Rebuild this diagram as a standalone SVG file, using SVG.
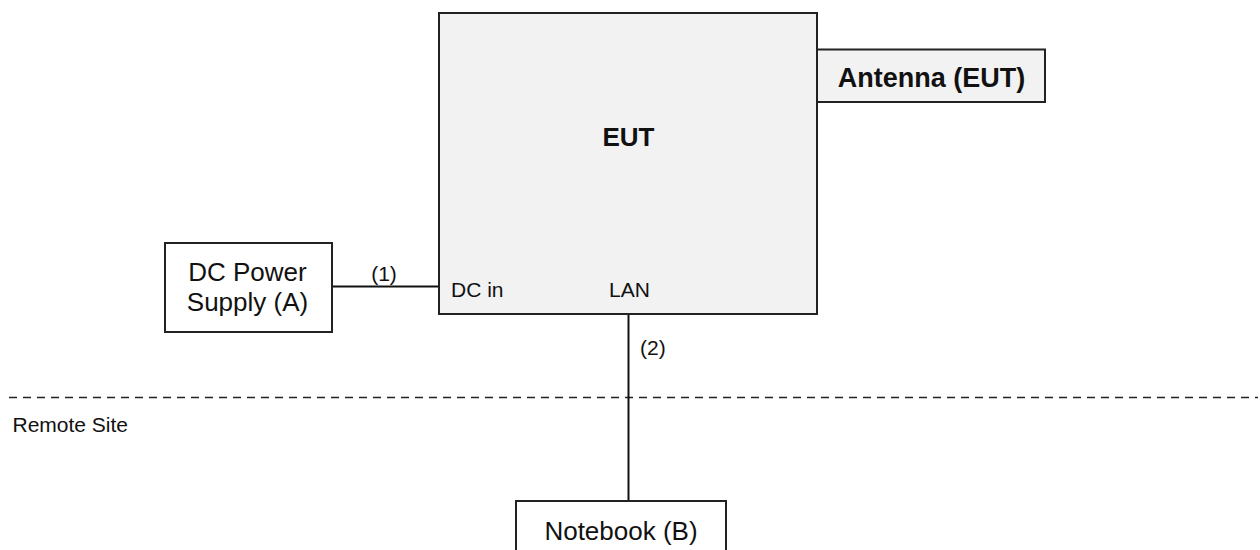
<svg xmlns="http://www.w3.org/2000/svg" width="1260" height="550" viewBox="0 0 1260 550">
  <style>
    .box { stroke: #222; stroke-width: 2; }
    .plain { fill: #ffffff; }
    .shade { fill: #f2f2f2; }
    .wire { stroke: #111; stroke-width: 2; fill: none; }
    .site { stroke: #222; stroke-width: 1.6; stroke-dasharray: 8 6; fill: none; }
    .lbl { font-family: "Liberation Sans", Arial, sans-serif; fill: #111; }
    .big { font-size: 26px; }
    .small { font-size: 21px; }
    .bold { font-weight: bold; }
  </style>

  <!-- site boundary -->
  <g id="site-boundary">
    <line class="site" x1="9" y1="397.5" x2="1258" y2="397.5"/>
    <text class="lbl small" x="12.5" y="432">Remote Site</text>
  </g>

  <!-- cables -->
  <g id="connectors">
    <line class="wire" x1="332" y1="286.5" x2="439" y2="286.5"/>
    <text class="lbl small" x="384" y="281" text-anchor="middle">(1)</text>
    <line class="wire" x1="628.5" y1="314" x2="628.5" y2="501"/>
    <text class="lbl small" x="640" y="355">(2)</text>
  </g>

  <g id="eut">
    <rect class="box shade" x="439" y="13" width="378" height="301"/>
    <text class="lbl big bold" x="628.5" y="146" text-anchor="middle">EUT</text>
    <text class="lbl small" x="451" y="297">DC in</text>
    <text class="lbl small" x="609" y="297">LAN</text>
  </g>

  <g id="antenna">
    <rect class="box shade" x="817" y="49.5" width="228" height="52.5"/>
    <text class="lbl bold" style="font-size:27px" x="931.5" y="87" text-anchor="middle">Antenna (EUT)</text>
  </g>

  <g id="dc-power-supply">
    <rect class="box plain" x="165" y="243" width="167" height="89"/>
    <text class="lbl big" x="247.5" y="281" text-anchor="middle">DC Power</text>
    <text class="lbl big" x="247.5" y="311" text-anchor="middle">Supply (A)</text>
  </g>

  <g id="notebook">
    <rect class="box plain" x="516" y="501" width="210" height="70"/>
    <text class="lbl big" x="621" y="540" text-anchor="middle">Notebook (B)</text>
  </g>
</svg>
